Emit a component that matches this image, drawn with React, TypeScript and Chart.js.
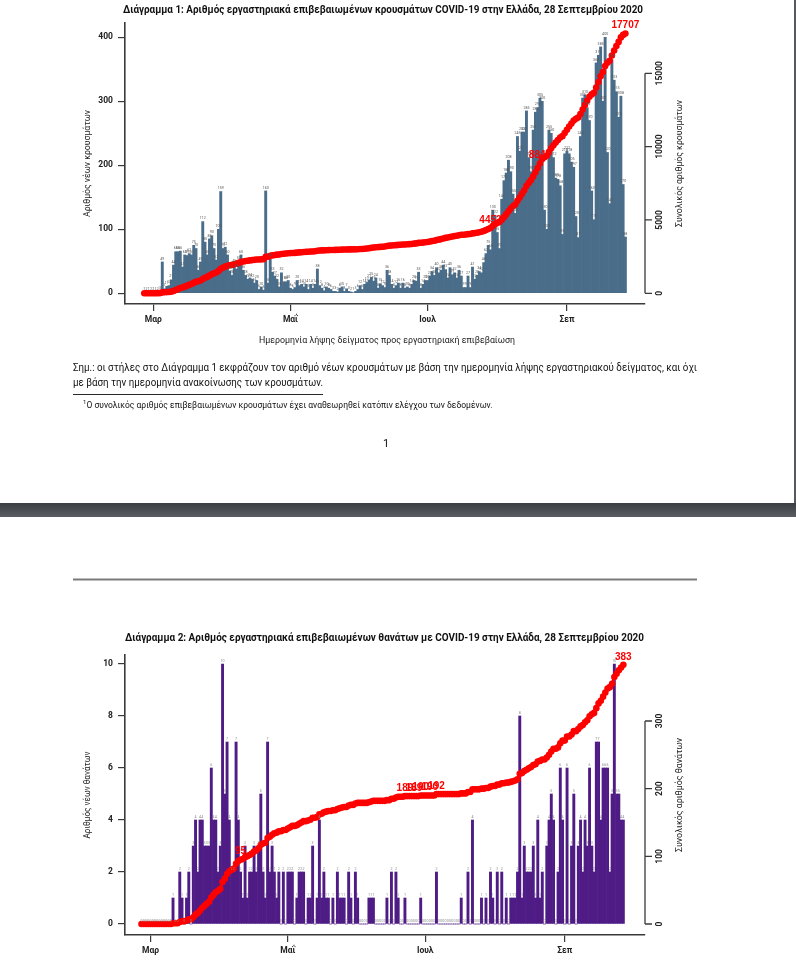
import React, { useEffect, useRef } from "react";
import { Chart, registerables } from "chart.js";
Chart.register(...registerables);

// ---------------- DATA ----------------
// Days run from 26 Feb 2020 (index 0) to 27 Sep 2020 (index 214)
const monthTickDays = [4, 65, 126, 188];
const monthTickLabels = ["Μαρ", "Μαΐ", "Ιουλ", "Σεπ"];

const casesDaily: number[] = [
  1, 2, 1, 2, 2, 1, 2, 3,
  49, 7, 11, 12, 21, 44, 65, 65, 66, 41, 60, 59,
  62, 60, 75, 70, 36, 49, 112, 80, 60, 85, 90, 70, 52, 100, 159,
  70, 72, 60, 35, 28, 45, 38, 50, 60, 36, 28, 22, 24, 22, 16, 20, 6, 10, 5, 160, 16, 55, 33, 27, 22, 10, 32, 18, 18, 20,
  8, 6, 9, 20, 12, 14, 10, 14, 6, 14, 8, 14, 38, 12, 8, 4, 10, 8, 6, 3, 3, 2, 8, 10, 3, 7, 3, 2, 1, 3,
  6, 12, 6, 14, 17, 21, 25, 19, 24, 8, 15, 12, 9, 36, 28, 14, 8, 12,
  16, 8, 16, 8, 10, 8, 14, 20, 19, 33, 8, 14, 20, 20,
  27, 34, 28, 40, 32, 36, 44, 37, 24, 40, 29, 32, 24, 36, 27, 9, 9, 27, 9, 41, 22, 28, 34,
  32, 48, 62, 75, 68,
  130, 122, 95, 70, 147, 176, 188, 208, 190, 155, 125, 245, 222, 252, 252, 285, 212, 190, 255, 283, 290, 305,
  300, 130, 100, 255, 250, 212, 180, 178, 168, 92, 218, 222, 218, 205, 197, 120, 87, 245, 305, 310, 290, 270,
  160, 115, 360, 372, 385, 300, 400, 220, 140, 365, 333, 315, 275, 308, 170, 88,
];

const deathsDaily: number[] = [
  0, 0, 0, 0, 0, 0, 0, 0, 0, 0, 0, 0, 0, 0,
  1, 0, 0, 2, 1, 0, 1, 2, 0, 3, 4, 2, 4, 4, 3, 3, 3,
  6, 4, 4, 2, 3, 10, 5, 7, 4, 2, 2, 7, 4, 2,
  1, 3, 1, 2, 2, 3, 2, 3, 5, 2, 1, 7, 2, 3, 2, 1, 2, 0, 2, 0,
  2, 2, 2, 0, 1, 2, 2, 2, 0, 1, 1, 3, 0, 1, 4, 1, 2, 1, 1, 0, 1, 0, 2, 1, 1, 1, 0, 2, 1, 0, 2, 1,
  0, 0, 0, 0, 1, 1, 1, 0, 0, 0, 0, 0, 1, 0, 2, 0, 2, 1, 0, 0, 1, 0, 0, 0, 0, 0, 0, 1, 0, 0, 0, 0, 0, 0,
  2, 0, 0, 0, 0, 0, 0, 0, 0, 0, 0, 1, 0, 0, 2, 0, 4, 0, 0, 0, 1, 0, 1, 0, 2, 1, 0, 2, 0, 2, 0, 1, 0, 1, 1, 1, 2, 8, 1, 3, 2, 2, 2, 3, 1, 4,
  1, 2, 0, 3, 4, 5, 4, 0, 2, 6, 4, 0, 6, 0, 3, 5, 0, 3, 4, 2, 4, 3, 6, 3, 2, 7, 7, 4, 6, 6, 6, 2, 5, 10, 5, 5, 4, 4,
];

const casesLeftTicks = [0, 100, 200, 300, 400];
const casesRightTicks = [0, 5000, 10000, 15000];
const deathsLeftTicks = [0, 2, 4, 6, 8, 10];
const deathsRightTicks = [0, 100, 200, 300];
const casesLabelDays = [154, 176, 214];
const deathsLabelDays = [44, 117, 121, 124, 128, 131, 214];

// ---------------- STYLE ----------------
const PAGE_W = 796;
const PAGE_H = 962;
const NARROW = "'Liberation Sans Narrow', 'Roboto', 'Liberation Sans', sans-serif";
const RED = "#ff0000";
const AXIS = "#3a3a3a";

function cumulative(a: number[]) {
  let s = 0;
  return a.map((v) => (s += v));
}

type Spec = {
  daily: number[];
  barColor: string;
  canvasTop: number;
  canvasH: number;
  areaTop: number;
  areaBottom: number;
  areaLeft: number;
  areaRight: number;
  day0X: number;
  pxPerDay: number;
  zeroY: number;
  leftPx: number;
  rightPx: number;
  leftTicks: number[];
  rightTicks: number[];
  labelDays: number[];
  leftTitle: string;
  leftTitleLen: number;
  rightTitle: string;
  rightTitleLen: number;
  xTitle?: string;
  xTitleLen?: number;
  xTitleY?: number;
  valueColor: string;
};

function fitText(ctx: CanvasRenderingContext2D, text: string, x: number, y: number, w: number, rot: number) {
  ctx.save();
  ctx.translate(x, y);
  ctx.rotate(rot);
  const m = ctx.measureText(text).width || 1;
  ctx.scale(w / m, 1);
  ctx.textAlign = "center";
  ctx.textBaseline = "middle";
  ctx.fillText(text, 0, 0);
  ctx.restore();
}

function buildChart(canvas: HTMLCanvasElement, s: Spec) {
  const cum = cumulative(s.daily);
  const top = s.areaTop - s.canvasTop;
  const bottom = s.areaBottom - s.canvasTop;
  const zero = s.zeroY - s.canvasTop;
  const xMin = (s.areaLeft - s.day0X) / s.pxPerDay;
  const xMax = (s.areaRight - s.day0X) / s.pxPerDay;
  const yMin = -(bottom - zero) / s.leftPx;
  const yMax = (zero - top) / s.leftPx;
  const y1Min = -(bottom - zero) / s.rightPx;
  const y1Max = (zero - top) / s.rightPx;
  const tickFont = { family: NARROW, size: 8.5, weight: "bold" as const };

  const decor = {
    id: "decor",
    afterDatasetsDraw(chart: any) {
      const ctx: CanvasRenderingContext2D = chart.ctx;
      const barMeta = chart.getDatasetMeta(1);
      ctx.save();
      ctx.font = `3.6px ${NARROW}`;
      ctx.fillStyle = s.valueColor;
      ctx.textAlign = "center";
      ctx.textBaseline = "bottom";
      barMeta.data.forEach((el: any, i: number) => {
        ctx.fillText(String(s.daily[i]), el.x, el.y - 1.5);
      });
      const lineMeta = chart.getDatasetMeta(0);
      ctx.font = `bold 10px 'Liberation Sans', 'Roboto', sans-serif`;
      ctx.fillStyle = RED;
      s.labelDays.forEach((d) => {
        const p = lineMeta.data[d];
        if (p) ctx.fillText(String(cum[d]), p.x, p.y - 3);
      });
      ctx.restore();
    },
    afterDraw(chart: any) {
      const ctx: CanvasRenderingContext2D = chart.ctx;
      const area = chart.chartArea;
      const y1 = chart.scales.y1;
      const xr = area.right;
      ctx.save();
      ctx.strokeStyle = AXIS;
      ctx.lineWidth = 1.3;
      ctx.beginPath();
      ctx.moveTo(xr, y1.getPixelForValue(s.rightTicks[0]));
      ctx.lineTo(xr, y1.getPixelForValue(s.rightTicks[s.rightTicks.length - 1]));
      s.rightTicks.forEach((v) => {
        const y = y1.getPixelForValue(v);
        ctx.moveTo(xr, y);
        ctx.lineTo(xr + 7, y);
      });
      ctx.stroke();
      ctx.fillStyle = "#222";
      ctx.font = `bold 8.5px ${NARROW}`;
      s.rightTicks.forEach((v) => {
        const y = y1.getPixelForValue(v);
        ctx.save();
        ctx.translate(xr + 15, y);
        ctx.rotate(-Math.PI / 2);
        ctx.textAlign = "center";
        ctx.textBaseline = "middle";
        ctx.fillText(String(v), 0, 0);
        ctx.restore();
      });
      ctx.font = `9.5px ${NARROW}`;
      ctx.fillStyle = "#222";
      const cy = (area.top + area.bottom) / 2;
      fitText(ctx, s.leftTitle, area.left - 37, cy, s.leftTitleLen, -Math.PI / 2);
      fitText(ctx, s.rightTitle, area.right + 35, cy, s.rightTitleLen, -Math.PI / 2);
      if (s.xTitle && s.xTitleLen && s.xTitleY) {
        fitText(ctx, s.xTitle, (area.left + area.right) / 2 + 2, s.xTitleY - s.canvasTop, s.xTitleLen, 0);
      }
      ctx.restore();
    },
  };

  return new Chart(canvas, {
    type: "bar",
    data: {
      datasets: [
        {
          type: "line",
          data: cum.map((y, x) => ({ x, y })),
          xAxisID: "x",
          yAxisID: "y1",
          borderColor: RED,
          backgroundColor: RED,
          borderWidth: 3,
          pointRadius: 3.3,
          pointBackgroundColor: RED,
          pointBorderWidth: 0,
          pointHoverRadius: 0,
          tension: 0,
          fill: false,
          order: 0,
        } as any,
        {
          type: "bar",
          data: s.daily.map((y, x) => ({ x, y })),
          xAxisID: "x",
          yAxisID: "y",
          backgroundColor: s.barColor,
          borderWidth: 0,
          barPercentage: 1,
          categoryPercentage: 1,
          order: 1,
        } as any,
      ],
    },
    options: {
      responsive: false,
      animation: false,
      events: [],
      layout: { padding: { top, right: PAGE_W - s.areaRight, left: 0, bottom: 0 } },
      plugins: { legend: { display: false }, tooltip: { enabled: false }, title: { display: false } },
      scales: {
        x: {
          type: "linear",
          min: xMin,
          max: xMax,
          offset: false,
          grid: { offset: false, drawOnChartArea: false, drawTicks: true, tickLength: 7, color: AXIS, lineWidth: 1.2 },
          border: { display: true, color: AXIS, width: 1.6 },
          ticks: {
            autoSkip: false,
            maxRotation: 0,
            minRotation: 0,
            padding: 4,
            font: tickFont,
            color: "#222",
            callback: (v: any) => {
              const i = monthTickDays.indexOf(Number(v));
              return i >= 0 ? monthTickLabels[i] : "";
            },
          },
          afterBuildTicks: (sc: any) => {
            sc.ticks = monthTickDays.map((v) => ({ value: v }));
          },
          afterFit: (sc: any) => {
            sc.height = s.canvasH - bottom;
          },
        } as any,
        y: {
          type: "linear",
          position: "left",
          min: yMin,
          max: yMax,
          grid: { drawOnChartArea: false, drawTicks: true, tickLength: 7, color: AXIS, lineWidth: 1.2 },
          border: { display: true, color: AXIS, width: 1.6 },
          ticks: { padding: 5, font: tickFont, color: "#222", callback: (v: any) => String(v) },
          afterBuildTicks: (sc: any) => {
            sc.ticks = s.leftTicks.map((v) => ({ value: v }));
          },
          afterFit: (sc: any) => {
            sc.width = s.areaLeft;
          },
        } as any,
        y1: { type: "linear", position: "right", min: y1Min, max: y1Max, display: false } as any,
      },
    },
    plugins: [decor],
  });
}

const spec1: Spec = {
  daily: casesDaily,
  barColor: "#4a6d8a",
  canvasTop: 0,
  canvasH: 360,
  areaTop: 23,
  areaBottom: 304,
  areaLeft: 125,
  areaRight: 645,
  day0X: 144.3,
  pxPerDay: 2.248,
  zeroY: 293.3,
  leftPx: 0.64,
  rightPx: 220 / 15000,
  leftTicks: casesLeftTicks,
  rightTicks: casesRightTicks,
  labelDays: casesLabelDays,
  leftTitle: "Αριθμός νέων κρουσμάτων",
  leftTitleLen: 107,
  rightTitle: "Συνολικός αριθμός κρουσμάτων",
  rightTitleLen: 127,
  xTitle: "Ημερομηνία λήψης δείγματος προς εργαστηριακή επιβεβαίωση",
  xTitleLen: 256,
  xTitleY: 340.7,
  valueColor: "#555",
};

const spec2: Spec = {
  daily: deathsDaily,
  barColor: "#4f1c86",
  canvasTop: 620,
  canvasH: 342,
  areaTop: 655,
  areaBottom: 935,
  areaLeft: 125,
  areaRight: 645,
  day0X: 141.5,
  pxPerDay: 2.2516,
  zeroY: 924,
  leftPx: 26,
  rightPx: 203 / 300,
  leftTicks: deathsLeftTicks,
  rightTicks: deathsRightTicks,
  labelDays: deathsLabelDays,
  leftTitle: "Αριθμός νέων θανάτων",
  leftTitleLen: 87,
  rightTitle: "Συνολικός αριθμός θανάτων",
  rightTitleLen: 114,
  valueColor: "#888",
};

export default function App() {
  const c1 = useRef<HTMLCanvasElement>(null);
  const c2 = useRef<HTMLCanvasElement>(null);
  useEffect(() => {
    const ch1 = buildChart(c1.current!, spec1);
    const ch2 = buildChart(c2.current!, spec2);
    return () => {
      ch1.destroy();
      ch2.destroy();
    };
  }, []);
  const textFont = NARROW;
  return (
    <div style={{ position: "absolute", left: 0, top: 0, width: PAGE_W, height: PAGE_H, background: "#fff", overflow: "hidden" }}>
      <canvas ref={c1} width={PAGE_W} height={360} style={{ position: "absolute", left: 0, top: 0, width: PAGE_W, height: 360 }} />
      <canvas ref={c2} width={PAGE_W} height={342} style={{ position: "absolute", left: 0, top: 620, width: PAGE_W, height: 342 }} />
      <svg width={PAGE_W} height={PAGE_H} style={{ position: "absolute", left: 0, top: 0, pointerEvents: "none" }}>
        <defs>
          <linearGradient id="band" x1="0" y1="0" x2="0" y2="1">
            <stop offset="0" stopColor="#3b3e43" />
            <stop offset="1" stopColor="#5a5d62" />
          </linearGradient>
        </defs>
        <text x={383} y={12.5} textAnchor="middle" textLength={520} lengthAdjust="spacingAndGlyphs" fontFamily={textFont} fontWeight="bold" fontSize={11} fill="#111">
          Διάγραμμα 1: Αριθμός εργαστηριακά επιβεβαιωμένων κρουσμάτων COVID-19 στην Ελλάδα, 28 Σεπτεμβρίου 2020
        </text>
        <text x={73} y={371} textLength={624} lengthAdjust="spacingAndGlyphs" fontFamily={textFont} fontSize={10} fill="#111">
          Σημ.: οι στήλες στο Διάγραμμα 1 εκφράζουν τον αριθμό νέων κρουσμάτων με βάση την ημερομηνία λήψης εργαστηριακού δείγματος, και όχι
        </text>
        <text x={73} y={385.5} textLength={250} lengthAdjust="spacingAndGlyphs" fontFamily={textFont} fontSize={10} fill="#111">
          με βάση την ημερομηνία ανακοίνωσης των κρουσμάτων.
        </text>
        <line x1={73} x2={323} y1={394.5} y2={394.5} stroke="#111" strokeWidth={0.9} />
        <text x={83} y={403.5} fontFamily={textFont} fontSize={6} fill="#111">1</text>
        <text x={86.5} y={407.5} textLength={406} lengthAdjust="spacingAndGlyphs" fontFamily={textFont} fontSize={8.5} fill="#111">
          Ο συνολικός αριθμός επιβεβαιωμένων κρουσμάτων έχει αναθεωρηθεί κατόπιν ελέγχου των δεδομένων.
        </text>
        <text x={386} y={446.5} textAnchor="middle" fontFamily={textFont} fontSize={11} fill="#111">1</text>
        <rect x={0} y={503} width={PAGE_W} height={14} fill="url(#band)" />
        <rect x={794} y={0} width={2} height={503} fill="#55585c" />
        <line x1={73} x2={697} y1={579.5} y2={579.5} stroke="#7a7a7a" strokeWidth={2} />
        <text x={384.5} y={641} textAnchor="middle" textLength={519} lengthAdjust="spacingAndGlyphs" fontFamily={textFont} fontWeight="bold" fontSize={11} fill="#111">
          Διάγραμμα 2: Αριθμός εργαστηριακά επιβεβαιωμένων θανάτων με COVID-19 στην Ελλάδα, 28 Σεπτεμβρίου 2020
        </text>
      </svg>
    </div>
  );
}
